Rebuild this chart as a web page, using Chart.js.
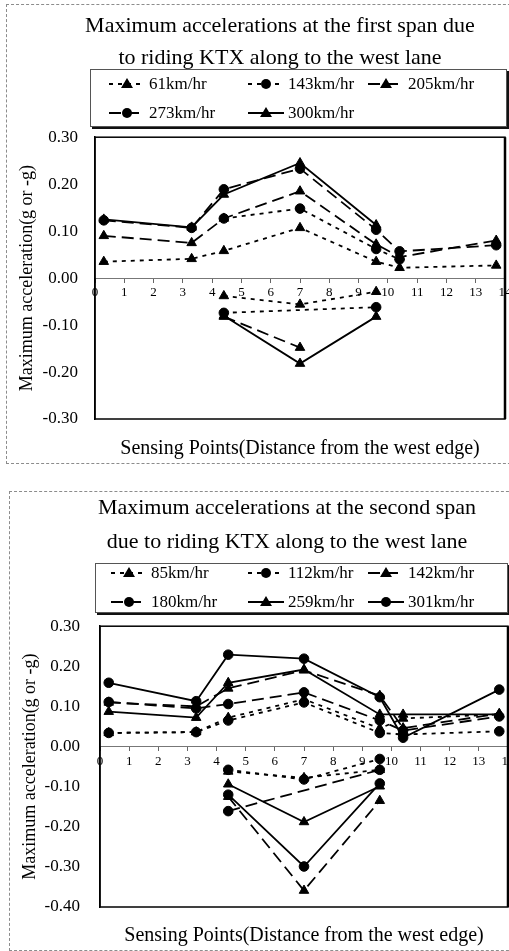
<!DOCTYPE html>
<html>
<head>
<meta charset="utf-8">
<script src="https://cdn.jsdelivr.net/npm/chart.js@4.4.1/dist/chart.umd.min.js"></script>
<style>
html, body { margin: 0; padding: 0; background: #fff; overflow: hidden; width: 509px; height: 951px; }
body { position: relative; font-family: "Liberation Serif", "Times New Roman", serif; color: #000; }
.panel { position: absolute; border: 1px dashed #8c8c8c; box-sizing: border-box; }
.title { position: absolute; text-align: center; font-size: 22px; white-space: nowrap; z-index: 2; }
.legend { position: absolute; border: 1px solid #555; box-shadow: 2px 2px 0 #111; background: #fff; box-sizing: border-box; z-index: 1; }
.legend .item { position: absolute; display: flex; align-items: center; height: 20px; line-height: 20px; font-size: 17px; white-space: nowrap; }
.legend .item canvas { margin-right: 3px; }
canvas.plot { position: absolute; }
</style>
</head>
<body>
<div class="panel" style="left:6px;top:4px;width:520px;height:460px;"></div>
<div class="panel" style="left:9px;top:491px;width:520px;height:460px;"></div>

<div class="title" style="left:0;width:560px;top:9px;line-height:32px;">Maximum accelerations at the first span due<br>to riding KTX along to the west lane</div>
<div class="title" style="left:0;width:574px;top:490px;line-height:34px;">Maximum accelerations at the second span<br>due to riding KTX along to the west lane</div>

<canvas id="span1" class="plot" width="510" height="353" style="left:7px;top:110px;"></canvas>
<canvas id="span2" class="plot" width="510" height="354" style="left:10px;top:596px;"></canvas>

<div id="legend1" class="legend" style="left:90px;top:69px;width:417px;height:58px;"></div>
<div id="legend2" class="legend" style="left:95px;top:563px;width:413px;height:50px;"></div>

<script>
// sensing points (m from west edge)
const SENSOR_X = [0.3, 3.3, 4.4, 7.0, 9.6, 10.4, 13.7];
const NEG_X = [4.4, 7.0, 9.6];
const X_TICKS = [0, 1, 2, 3, 4, 5, 6, 7, 8, 9, 10, 11, 12, 13, 14];
const Y1_TICKS = [-0.3, -0.2, -0.1, 0, 0.1, 0.2, 0.3];
const Y2_TICKS = [-0.4, -0.3, -0.2, -0.1, 0, 0.1, 0.2, 0.3];

// first span
const SPAN1_LABELS = ['61km/hr', '143km/hr', '205km/hr', '273km/hr', '300km/hr'];
const s1_61  = [0.035, 0.041, 0.058, 0.107, 0.035, 0.022, 0.027];
const s1_143 = [null, null, 0.127, 0.148, 0.062, 0.040, null];
const s1_205 = [0.090, 0.075, 0.127, 0.185, 0.072, 0.045, 0.080];
const s1_273 = [0.123, 0.107, 0.189, 0.233, 0.103, 0.057, 0.070];
const s1_300 = [0.125, 0.108, 0.178, 0.245, 0.113, null, null];
const s1_61_neg  = [-0.038, -0.056, -0.029];
const s1_143_neg = [-0.074, null, -0.062];
const s1_205_neg = [-0.082, -0.148, null];
const s1_300_neg = [-0.080, -0.182, -0.082];

// second span
const SPAN2_LABELS = ['85km/hr', '112km/hr', '142km/hr', '180km/hr', '259km/hr', '301km/hr'];
const s2_85  = [0.034, 0.036, 0.072, 0.118, 0.045, 0.070, 0.080];
const s2_112 = [0.034, 0.036, 0.065, 0.110, 0.034, 0.030, 0.038];
const s2_142 = [0.110, 0.100, 0.145, 0.190, 0.127, 0.046, 0.082];
const s2_180 = [0.111, 0.095, 0.106, 0.135, 0.065, 0.040, 0.075];
const s2_259 = [0.087, 0.072, 0.159, 0.192, 0.080, 0.080, 0.080];
const s2_301 = [0.159, 0.113, 0.229, 0.219, 0.123, 0.022, 0.142];
const s2_85_neg  = [-0.062, -0.078, -0.058];
const s2_112_neg = [-0.058, -0.082, -0.031];
const s2_142_neg = [-0.125, -0.359, -0.135];
const s2_180_neg = [-0.161, null, -0.058];
const s2_259_neg = [-0.094, -0.188, -0.099];
const s2_301_neg = [-0.120, -0.299, -0.092];

// line styles
const DOT = [4, 5];
const LONG = [12, 6];
const SOLID = [];
const SPAN1_STYLES = [
  { dash: DOT, marker: 'triangle' },
  { dash: DOT, marker: 'circle' },
  { dash: LONG, marker: 'triangle' },
  { dash: LONG, marker: 'circle' },
  { dash: SOLID, marker: 'triangle' }
];
const SPAN2_STYLES = [
  { dash: DOT, marker: 'triangle' },
  { dash: DOT, marker: 'circle' },
  { dash: LONG, marker: 'triangle' },
  { dash: LONG, marker: 'circle' },
  { dash: SOLID, marker: 'triangle' },
  { dash: SOLID, marker: 'circle' }
];

const SERIF = "'Liberation Serif', 'Times New Roman', serif";

const series = (label, xs, ys, st) => ({
  label,
  data: xs.map((x, i) => ({ x, y: ys[i] })),
  borderColor: '#000',
  backgroundColor: '#000',
  borderWidth: 1.8,
  borderDash: st.dash,
  pointStyle: st.marker,
  pointRadius: st.marker === 'triangle' ? 5.5 : 4.8,
  pointBackgroundColor: '#000',
  pointBorderColor: '#000',
  pointBorderWidth: 1,
  spanGaps: true,
  tension: 0,
  fill: false
});

// black box around plot area
const frame = {
  id: 'frame',
  afterDraw(chart) {
    const { ctx, chartArea: a } = chart;
    ctx.save();
    ctx.strokeStyle = '#000';
    ctx.lineWidth = 1.5;
    ctx.strokeRect(a.left, a.top, a.right - a.left, a.bottom - a.top);
    ctx.lineWidth = 2.5;
    ctx.beginPath();
    ctx.moveTo(a.right, a.top);
    ctx.lineTo(a.right, a.bottom);
    ctx.stroke();
    ctx.restore();
  }
};

const makeChart = (id, datasets, yTicks, yWidth, yPad, padTop, xTitleH) => {
  const yMin = yTicks[0], yMax = yTicks[yTicks.length - 1];
  return new Chart(document.getElementById(id), {
    type: 'line',
    data: { datasets },
    plugins: [frame],
    options: {
      responsive: false,
      animation: false,
      layout: { padding: { top: padTop, right: 12, bottom: 0, left: 0 } },
      plugins: { legend: { display: false }, tooltip: { enabled: false } },
      scales: {
        x: {
          type: 'linear',
          min: 0, max: 14,
          position: { y: 0 },
          afterBuildTicks: s => { s.ticks = X_TICKS.map(v => ({ value: v })); },
          afterFit: s => { s.height = 0; },
          grid: { drawOnChartArea: false, tickLength: 4, color: '#666' },
          border: { color: '#777', width: 1 },
          ticks: { color: '#000', font: { family: SERIF, size: 13 }, padding: 3, maxRotation: 0, autoSkip: false }
        },
        x2: {
          type: 'linear',
          position: 'bottom',
          min: 0, max: 14,
          afterFit: s => { s.height = xTitleH; },
          grid: { display: false },
          border: { display: false },
          ticks: { display: false },
          title: {
            display: true,
            text: 'Sensing Points(Distance from the west edge)',
            color: '#000',
            font: { family: SERIF, size: 20 },
            padding: { top: 0, bottom: 2 }
          }
        },
        y: {
          min: yMin, max: yMax,
          afterBuildTicks: s => { s.ticks = yTicks.map(v => ({ value: v })); },
          afterFit: s => { s.width = yWidth; },
          grid: { display: false, drawTicks: false },
          border: { display: true, color: '#000', width: 1.5 },
          ticks: {
            color: '#000',
            font: { family: SERIF, size: 17 },
            padding: yPad,
            callback: v => v.toFixed(2)
          },
          title: {
            display: true,
            text: 'Maximum acceleration(g or -g)',
            color: '#000',
            font: { family: SERIF, size: 18 },
            padding: { top: 9, bottom: 0 }
          }
        }
      }
    }
  });
};

// legend sample: line segment with its marker
const drawSample = (cv, st) => {
  const c = cv.getContext('2d');
  const w = cv.width, h = cv.height, cy = h / 2;
  c.strokeStyle = '#000';
  c.lineWidth = 2;
  c.setLineDash(st.dash);
  c.beginPath();
  c.moveTo(1, cy);
  c.lineTo(w - 1, cy);
  c.stroke();
  c.setLineDash([]);
  c.fillStyle = '#000';
  c.beginPath();
  if (st.marker === 'triangle') {
    c.moveTo(w / 2, cy - 6);
    c.lineTo(w / 2 + 6, cy + 4);
    c.lineTo(w / 2 - 6, cy + 4);
    c.closePath();
  } else {
    c.arc(w / 2, cy, 5, 0, Math.PI * 2);
  }
  c.fill();
};

const buildLegend = (id, labels, styles, cols, rows) => {
  const box = document.getElementById(id);
  labels.forEach((lab, i) => {
    const item = document.createElement('div');
    item.className = 'item';
    item.style.left = cols[i % 3] + 'px';
    item.style.top = rows[Math.floor(i / 3)] + 'px';
    const cv = document.createElement('canvas');
    cv.width = 38; cv.height = 14;
    drawSample(cv, styles[i]);
    const sp = document.createElement('span');
    sp.textContent = lab;
    item.append(cv, sp);
    box.appendChild(item);
  });
};

// first span chart
const s1Pos = [s1_61, s1_143, s1_205, s1_273, s1_300];
const s1Neg = [s1_61_neg, s1_143_neg, s1_205_neg, null, s1_300_neg];
const ds1 = [];
SPAN1_LABELS.forEach((lab, i) => {
  ds1.push(series(lab, SENSOR_X, s1Pos[i], SPAN1_STYLES[i]));
  if (s1Neg[i]) ds1.push(series(lab + ' (-)', NEG_X, s1Neg[i], SPAN1_STYLES[i]));
});
makeChart('span1', ds1, Y1_TICKS, 88, 17, 18, 44);
buildLegend('legend1', SPAN1_LABELS, SPAN1_STYLES, [17, 156, 276], [4, 33]);

// second span chart
const s2Pos = [s2_85, s2_112, s2_142, s2_180, s2_259, s2_301];
const s2Neg = [s2_85_neg, s2_112_neg, s2_142_neg, s2_180_neg, s2_259_neg, s2_301_neg];
const ds2 = [];
SPAN2_LABELS.forEach((lab, i) => {
  ds2.push(series(lab, SENSOR_X, s2Pos[i], SPAN2_STYLES[i]));
  ds2.push(series(lab + ' (-)', NEG_X, s2Neg[i], SPAN2_STYLES[i]));
});
makeChart('span2', ds2, Y2_TICKS, 90, 20, 17, 43);
buildLegend('legend2', SPAN2_LABELS, SPAN2_STYLES, [14, 151, 271], [-1, 28]);
</script>
</body>
</html>
